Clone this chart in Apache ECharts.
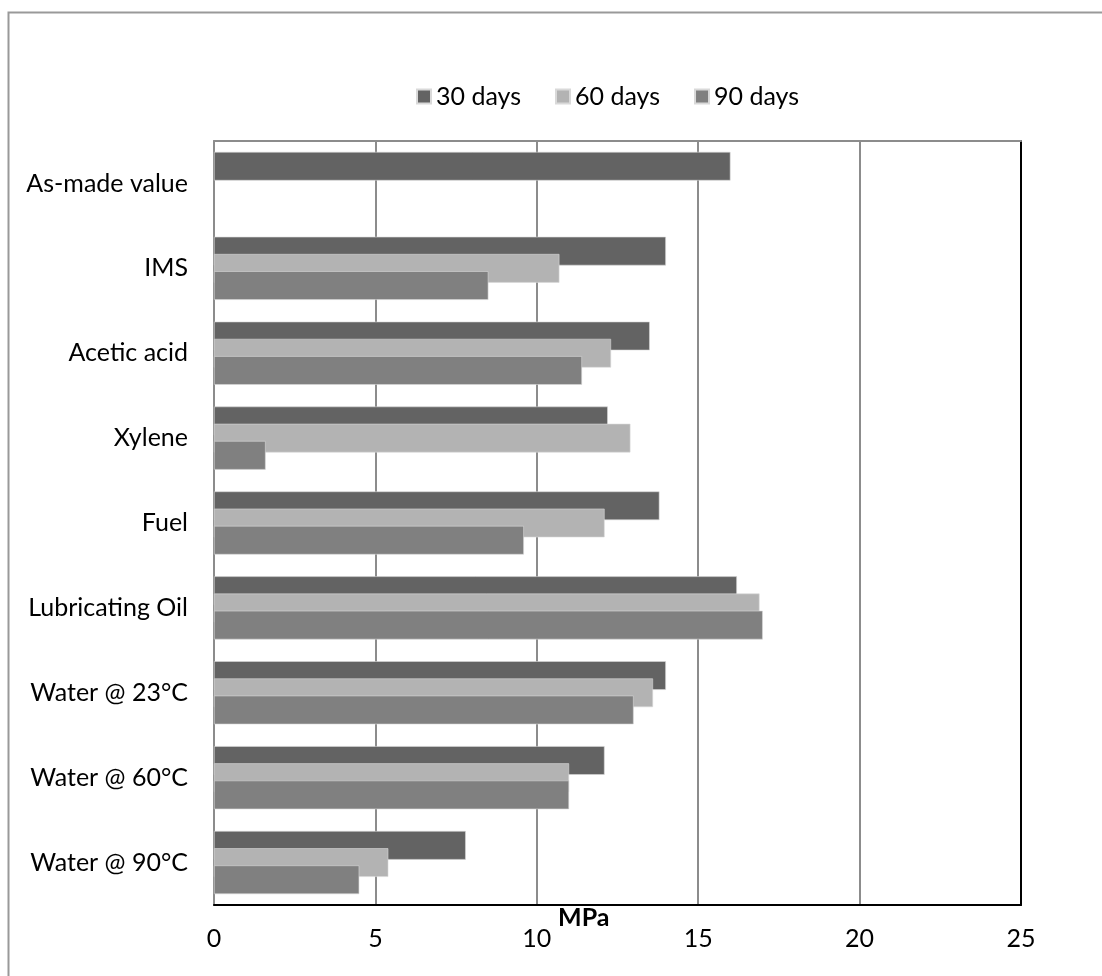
<!DOCTYPE html>
<html>
<head>
<meta charset="utf-8">
<script src="https://cdn.jsdelivr.net/npm/echarts@6/dist/echarts.min.js"></script>
<style>
  html, body { margin: 0; padding: 0; background: #fff; }
  #chart { width: 1102px; height: 976px; }
</style>
</head>
<body>
<div id="chart"></div>
<script>
// Tensile strength after immersion, by medium and exposure time (MPa)
const categories = [
  'As-made value', 'IMS', 'Acetic acid', 'Xylene', 'Fuel',
  'Lubricating Oil', 'Water @ 23°C', 'Water @ 60°C', 'Water @ 90°C'
];
const seriesNames = ['30 days', '60 days', '90 days'];
const days30 = [16.0, 14.0, 13.5, 12.2, 13.8, 16.2, 14.0, 12.1, 7.8];
const days60 = [null, 10.7, 12.3, 12.9, 12.1, 16.9, 13.6, 11.0, 5.4];
const days90 = [null, 8.5, 11.4, 1.6, 9.6, 17.0, 13.0, 11.0, 4.5];
const seriesColors = ['#636363', '#b3b3b3', '#808080'];
const xTicks = { min: 0, max: 25, interval: 5 };
const axisTitle = 'MPa';

const FONT = 'Lato, "Open Sans", sans-serif';
const chart = echarts.init(document.getElementById('chart'), null, { renderer: 'canvas' });

const values = [days30, days60, days90];
const series = seriesNames.map((name, i) => ({
  name,
  type: 'bar',
  data: values[i],
  barWidth: 28.7,
  barGap: '-40%',
  itemStyle: { color: seriesColors[i], borderColor: '#d9d9d9', borderWidth: 0.6 },
  emphasis: { disabled: true },
  animation: false
}));

chart.setOption({
  backgroundColor: '#ffffff',
  animation: false,
  textStyle: { fontFamily: FONT },
  legend: {
    data: seriesNames,
    left: 411,
    top: 79,
    itemWidth: 14,
    itemHeight: 14,
    itemGap: 34,
    icon: 'rect',
    textStyle: { fontFamily: FONT, fontSize: 25, color: '#000' }
  },
  grid: { left: 214, right: 81, top: 141, bottom: 71, containLabel: false },
  xAxis: [
    {
      type: 'value',
      min: xTicks.min, max: xTicks.max, interval: xTicks.interval,
      axisLine: { show: true, onZero: false, lineStyle: { color: '#000', width: 2 } },
      axisTick: { show: false },
      axisLabel: { fontFamily: FONT, fontSize: 25, color: '#000', margin: 21 },
      splitLine: { show: true, lineStyle: { color: '#8c8c8c', width: 2 } }
    },
    {
      type: 'value',
      position: 'top',
      min: xTicks.min, max: xTicks.max, interval: xTicks.interval,
      axisLine: { show: true, onZero: false, lineStyle: { color: '#8c8c8c', width: 2 } },
      axisTick: { show: false },
      axisLabel: { show: false },
      splitLine: { show: false }
    }
  ],
  yAxis: [
    {
      type: 'category',
      data: categories,
      inverse: true,
      axisLine: { show: true, onZero: false, lineStyle: { color: '#8c8c8c', width: 2 } },
      axisTick: { show: false },
      axisLabel: { fontFamily: FONT, fontSize: 25, color: '#000', margin: 26 },
      splitLine: { show: false }
    },
    {
      type: 'category',
      data: categories,
      inverse: true,
      position: 'right',
      axisLine: { show: true, onZero: false, lineStyle: { color: '#000', width: 2 } },
      axisTick: { show: false },
      axisLabel: { show: false },
      splitLine: { show: false }
    }
  ],
  graphic: [
    {
      type: 'rect',
      left: 6, top: 10,
      shape: { width: 1200, height: 1100 },
      style: { fill: 'none', stroke: '#999', lineWidth: 2 },
      silent: true
    },
    {
      type: 'text',
      left: 558, top: 905,
      style: { text: axisTitle, fontFamily: FONT, fontSize: 25, fontWeight: 'bold', fill: '#000' },
      silent: true
    }
  ],
  series
});
</script>
</body>
</html>
